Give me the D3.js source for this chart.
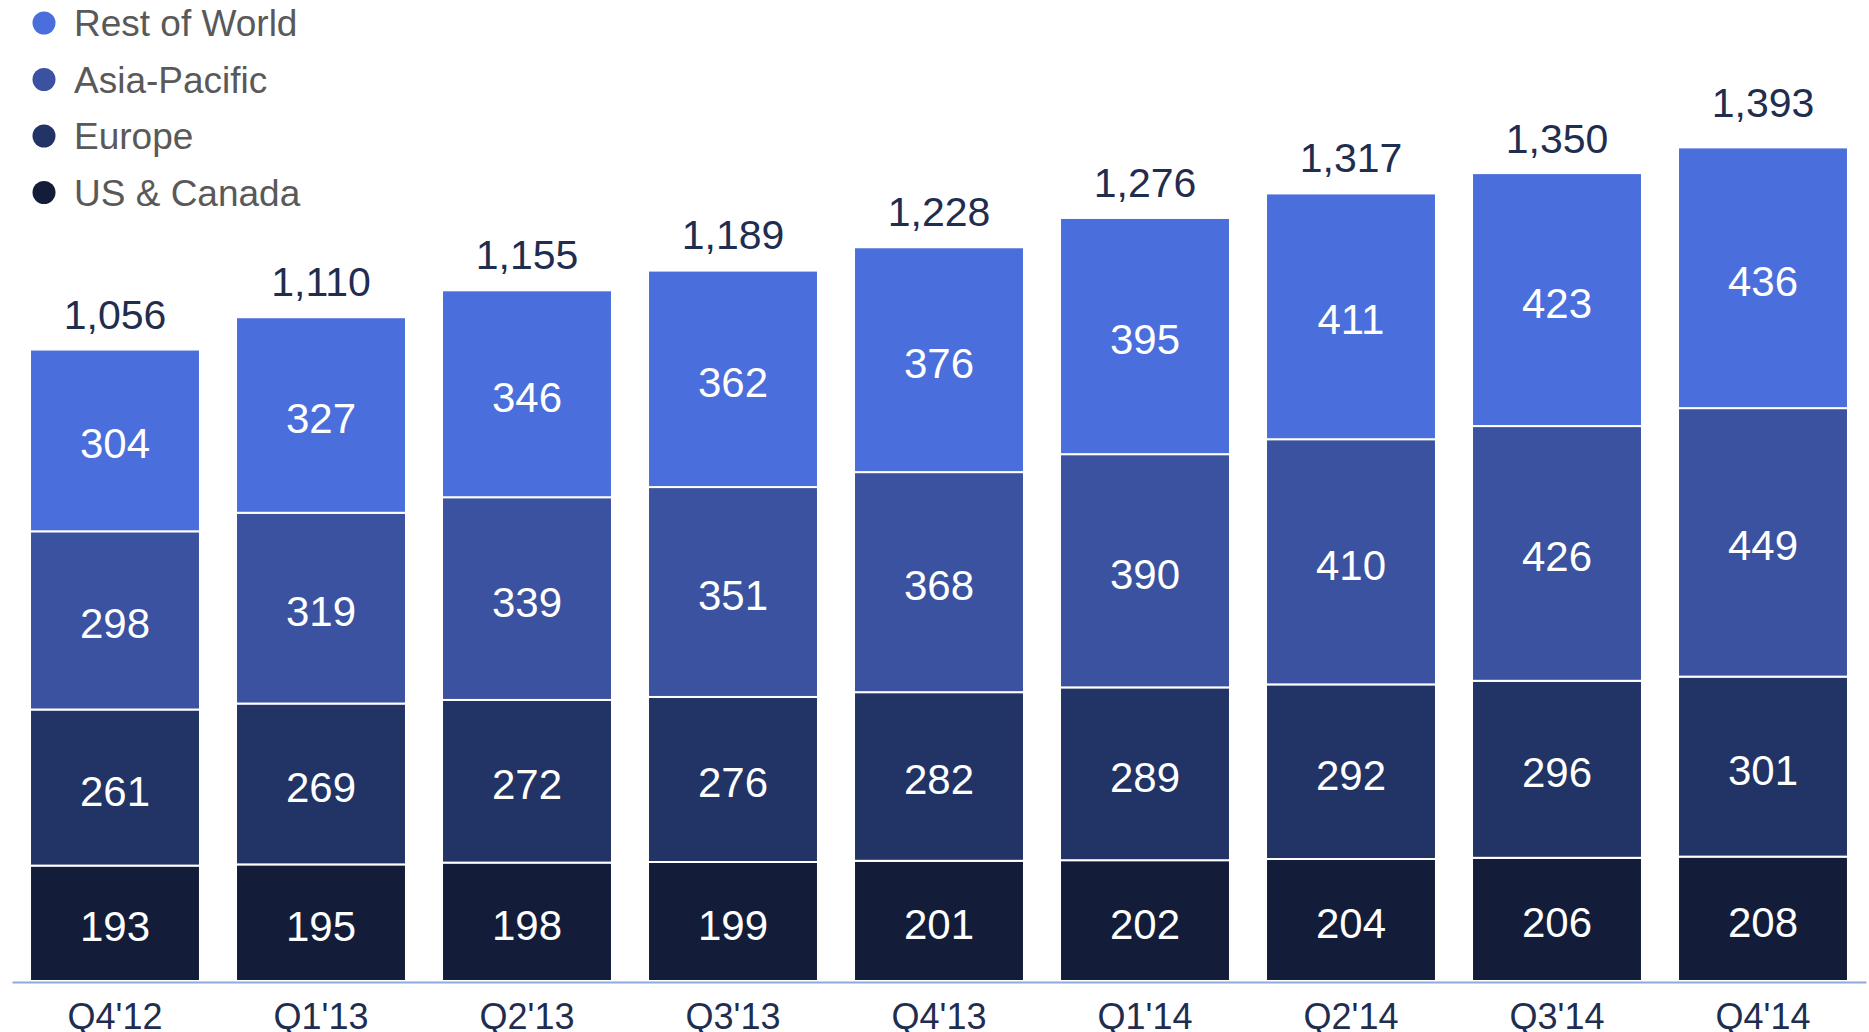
<!DOCTYPE html>
<html>
<head>
<meta charset="utf-8">
<script src="https://cdn.jsdelivr.net/npm/d3@7"></script>
<style>
  body { margin: 0; background: #fff; }
  svg { display: block; font-family: "Liberation Sans", Arial, sans-serif; }
</style>
</head>
<body>
<svg id="chart"></svg>
<script>
const quarters = ["Q4'12", "Q1'13", "Q2'13", "Q3'13", "Q4'13", "Q1'14", "Q2'14", "Q3'14", "Q4'14"];
const usCanada = [193, 195, 198, 199, 201, 202, 204, 206, 208];
const europe = [261, 269, 272, 276, 282, 289, 292, 296, 301];
const asiaPacific = [298, 319, 339, 351, 368, 390, 410, 426, 449];
const restOfWorld = [304, 327, 346, 362, 376, 395, 411, 423, 436];
// reported totals (rounded, so not always the sum of the parts)
const totals = [1056, 1110, 1155, 1189, 1228, 1276, 1317, 1350, 1393];
const seriesNames = ["US & Canada", "Europe", "Asia-Pacific", "Rest of World"];
const seriesColors = ["#131d3a", "#223366", "#3a52a0", "#4a6fdc"];

const width = 1869, height = 1032;
const baseY = 981;

const svg = d3.select("#chart").attr("width", width).attr("height", height);

const rows = quarters.map((q, i) => ({
    quarter: q,
    "US & Canada": usCanada[i],
    "Europe": europe[i],
    "Asia-Pacific": asiaPacific[i],
    "Rest of World": restOfWorld[i]
}));

const stack = d3.stack().keys(seriesNames)(rows);

const xScale = d3.scaleBand()
    .domain(quarters)
    .range([12, 1866])
    .paddingInner(0.175)
    .paddingOuter(0.0875);

const yScale = d3.scaleLinear().domain([0, 1393]).range([baseY, 148]);

const color = d3.scaleOrdinal().domain(seriesNames).range(seriesColors);

// stacked segments
const layers = svg.append("g")
    .selectAll(".layer")
    .data(stack)
    .join("g")
    .attr("class", "layer")
    .attr("fill", d => color(d.key));

layers.selectAll("rect")
    .data(d => d)
    .join("rect")
    .attr("x", d => xScale(d.data.quarter))
    .attr("y", d => yScale(d[1]))
    .attr("width", xScale.bandwidth())
    .attr("height", d => yScale(d[0]) - yScale(d[1]))
    .attr("stroke", "#ffffff")
    .attr("stroke-width", 2);

// values inside segments
layers.selectAll("text")
    .data(d => d)
    .join("text")
    .attr("x", d => xScale(d.data.quarter) + xScale.bandwidth() / 2)
    .attr("y", d => (yScale(d[0]) + yScale(d[1])) / 2 + 18)
    .attr("text-anchor", "middle")
    .attr("fill", "#ffffff")
    .style("font-size", "42px")
    .text(d => d[1] - d[0]);

// totals above bars
svg.append("g")
    .selectAll("text")
    .data(quarters)
    .join("text")
    .attr("x", q => xScale(q) + xScale.bandwidth() / 2)
    .attr("y", (q, i) => yScale(totals[i]) - (i === quarters.length - 1 ? 31 : 21))
    .attr("text-anchor", "middle")
    .attr("fill", "#1f2d4f")
    .style("font-size", "41px")
    .text((q, i) => d3.format(",")(totals[i]));

// x axis
const xAxis = svg.append("g")
    .attr("transform", `translate(0, ${baseY + 1})`)
    .call(d3.axisBottom(xScale).tickSize(0).tickSizeOuter(0));

xAxis.select(".domain").attr("stroke", "#8eaadb").attr("stroke-width", 2);
xAxis.selectAll("text")
    .attr("y", 47)
    .attr("dy", 0)
    .attr("fill", "#1f2d4f")
    .style("font-family", "'Liberation Sans', Arial, sans-serif")
    .style("font-size", "36px");

// legend
const legendItems = seriesNames.slice().reverse();
const legend = svg.append("g")
    .selectAll("g")
    .data(legendItems)
    .join("g")
    .attr("transform", (d, i) => `translate(44, ${23 + i * 56.5})`);

legend.append("circle")
    .attr("r", 11.5)
    .attr("fill", d => color(d));

legend.append("text")
    .attr("x", 30)
    .attr("y", 13)
    .attr("fill", "#595959")
    .style("font-size", "37px")
    .text(d => d);
</script>
</body>
</html>
